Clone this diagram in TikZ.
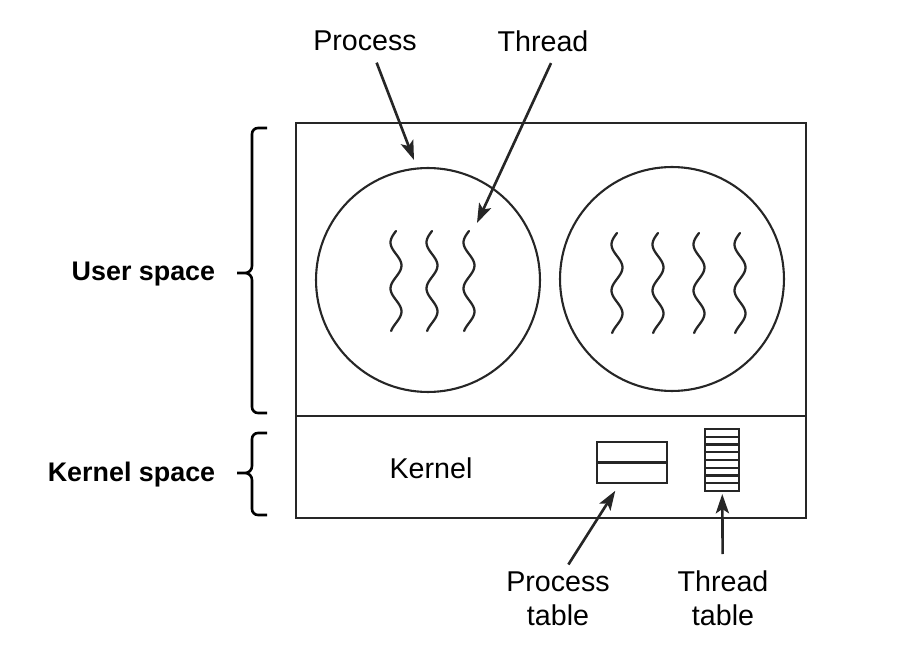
\documentclass[tikz,border=0pt]{standalone}
\usepackage{fontspec}
\setmainfont{Liberation Sans}
\usepackage{xcolor}
\usetikzlibrary{arrows.meta,positioning}
\definecolor{ink}{HTML}{262626}

\begin{document}
\begin{tikzpicture}[x=0.02cm,y=-0.02cm,inner sep=1pt,color=ink,line width=1.2pt,
  lab/.style={font=\fontsize{16.3}{19.3}\selectfont,align=center,outer sep=3pt,text=black},
  side/.style={font=\fontsize{15.3}{18}\selectfont\bfseries,anchor=east,text=black},
  brace/.style={line width=1.5pt,black},
  proc/.style={circle,draw,minimum size=4.48cm,inner sep=0pt},
  thr/.style={line width=1.3pt,line cap=round},
  arr/.style={-{Stealth[length=11pt,width=7.5pt,inset=2.5pt]},line width=1.5pt}]
\useasboundingbox (0,0) rectangle (914,672);

% user and kernel space
\node[draw,minimum width=10.2cm,minimum height=7.9cm,inner sep=0pt] (sys) at (551,320.5) {};
\draw (296,416) -- (806,416);
\node[side] (user) at (218,274) {User space};
\node[side] (kspace) at (218,475) {Kernel space};
\draw[brace] (267,128) -- (258,128) to[out=180,in=90] (252,134) -- (252,266)
  to[out=-90,in=0] (245,273) -- (237,273) (245,273) to[out=0,in=90] (252,280)
  -- (252,407) to[out=-90,in=180] (258,413) -- (267,413);
\draw[brace] (267,433) -- (258,433) to[out=180,in=90] (252,439) -- (252,466)
  to[out=-90,in=0] (245,473) -- (237,473) (245,473) to[out=0,in=90] (252,480)
  -- (252,509) to[out=-90,in=180] (258,515) -- (267,515);

% processes and their threads
\node[proc] (p1) at (428,280) {};
\node[proc] (p2) at (672,279) {};
\foreach \tx in {396,432,469}
  \draw[thr] plot[domain=0:100,samples=50,smooth,variable=\t] ({\tx-5.5*sin(\t*7.826)},{231+\t});
\foreach \tx in {617,658,699,740}
  \draw[thr] plot[domain=0:100,samples=50,smooth,variable=\t] ({\tx-5.5*sin(\t*7.826)},{233+\t});

% kernel tables
\node[lab] (kern) at (431,468) {Kernel};
\node[draw,minimum width=1.4cm,minimum height=0.82cm,inner sep=0pt] (ptab) at (632,462.5) {};
\draw (ptab.west) -- (ptab.east);
\node[draw,minimum width=0.68cm,minimum height=1.24cm,inner sep=0pt] (ttab) at (722,460) {};
\foreach \i in {1,...,7}
  \draw (705,{429+7.75*\i}) -- (739,{429+7.75*\i});

% labels
\node[lab] (plab) at (365,41) {Process};
\node[lab] (tlab) at (543,41) {Thread};
\node[lab] (ptlab) at (558,598.5) {Process\\table};
\node[lab] (ttlab) at (723,598.5) {Thread\\table};
\coordinate (pend) at (414,160);
\coordinate (tend) at (477,223);

\path (plab.-60) edge[arr,shorten <=0.1cm] (pend);
\path (tlab.-60) edge[arr,shorten <=0.1cm] (tend);
\path (ptlab.73) edge[arr,shorten >=0.16cm] (ptab.240);
\path (ttlab) edge[arr,shorten <=0.2cm,shorten >=0.04cm] (ttab);
\end{tikzpicture}
\end{document}
